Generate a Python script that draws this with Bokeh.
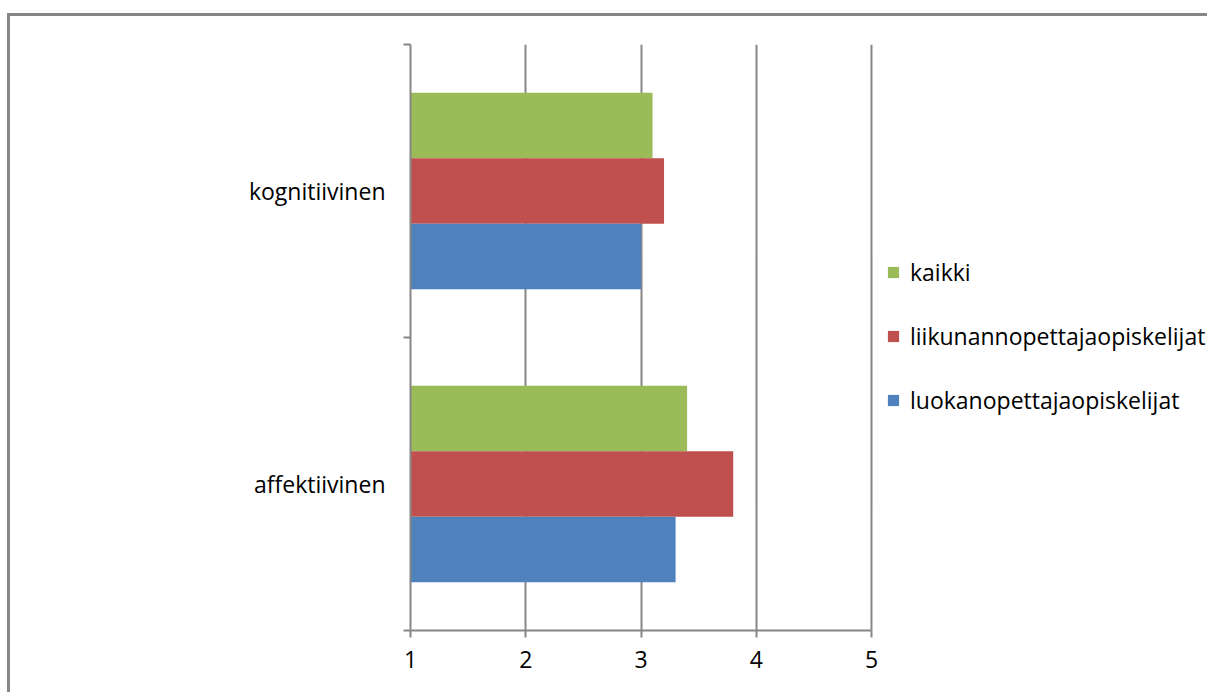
from bokeh.plotting import figure
from bokeh.models import ColumnDataSource, Range1d, FixedTicker, Legend, LegendItem
from bokeh.transform import dodge
from bokeh.embed import file_html
from bokeh.resources import INLINE

categories = ["affektiivinen", "kognitiivinen"]
series = ["kaikki", "liikunannopettajaopiskelijat", "luokanopettajaopiskelijat"]
kaikki = [3.4, 3.1]
liikunnan = [3.8, 3.2]
luokan = [3.3, 3.0]
x_ticks = [1, 2, 3, 4, 5]

colors = {"kaikki": "#9BBB59", "liikunannopettajaopiskelijat": "#C0504D",
          "luokanopettajaopiskelijat": "#4F81BD"}

FONT = "Open Sans"
GRAY = "#868686"

ypos = [i + 0.5 for i in range(len(categories))]
src = ColumnDataSource(dict(y=ypos, kaikki=kaikki, liik=liikunnan, luok=luokan,
                            cat=categories))

px_per_unit = 115.25
frame_w = 800
p = figure(width=1200, height=679, output_backend="svg", toolbar_location=None,
           x_range=Range1d(1, 1 + frame_w / px_per_unit), y_range=Range1d(0, len(categories)),
           min_border_left=400, min_border_right=0, min_border_top=28,
           min_border_bottom=65, outline_line_color=None,
           styles={"margin-left": "7px", "margin-top": "13px",
                   "border-top": "3px solid " + GRAY, "border-left": "3px solid " + GRAY})
p.background_fill_color = "white"
p.border_fill_color = "white"

bh = 0.2235
r_k = p.hbar(y=dodge("y", bh, range=p.y_range), left=1, right="kaikki", height=bh,
             source=src, fill_color=colors["kaikki"], line_color=None)
r_li = p.hbar(y=dodge("y", 0, range=p.y_range), left=1, right="liik", height=bh,
              source=src, fill_color=colors["liikunannopettajaopiskelijat"], line_color=None)
r_lu = p.hbar(y=dodge("y", -bh, range=p.y_range), left=1, right="luok", height=bh,
              source=src, fill_color=colors["luokanopettajaopiskelijat"], line_color=None)

# x axis
p.xaxis.ticker = FixedTicker(ticks=x_ticks)
p.xaxis.bounds = (x_ticks[0], x_ticks[-1])
p.xaxis.axis_line_color = GRAY
p.xaxis.axis_line_width = 2
p.xaxis.major_tick_line_color = GRAY
p.xaxis.major_tick_line_width = 2
p.xaxis.major_tick_in = 0
p.xaxis.major_tick_out = 7
p.xaxis.minor_tick_line_color = None
p.xaxis.major_label_text_font = FONT
p.xaxis.major_label_text_font_size = "23px"
p.xaxis.major_label_text_color = "#000000"
p.xaxis.major_label_standoff = 13

# y axis
p.yaxis.ticker = FixedTicker(ticks=ypos, minor_ticks=list(range(len(categories) + 1)))
p.yaxis.major_label_overrides = {y: c for y, c in zip(ypos, categories)}
p.yaxis.axis_line_color = GRAY
p.yaxis.axis_line_width = 2
p.yaxis.major_tick_line_color = None
p.yaxis.minor_tick_line_color = GRAY
p.yaxis.minor_tick_line_width = 2
p.yaxis.minor_tick_in = 0
p.yaxis.minor_tick_out = 7
p.yaxis.major_label_text_font = FONT
p.yaxis.major_label_text_font_size = "23px"
p.yaxis.major_label_text_color = "#000000"
p.yaxis.major_label_standoff = 18

p.xgrid.ticker = FixedTicker(ticks=x_ticks[1:])
p.xgrid.grid_line_color = GRAY
p.xgrid.grid_line_width = 2
p.ygrid.grid_line_color = None

legend = Legend(items=[LegendItem(label=series[0], renderers=[r_k]),
                       LegendItem(label=series[1], renderers=[r_li]),
                       LegendItem(label=series[2], renderers=[r_lu])],
                location=(476, 214), orientation="vertical")
legend.glyph_width = 14
legend.glyph_height = 14
legend.label_height = 30
legend.label_standoff = 10
legend.spacing = 32
legend.padding = 0
legend.margin = 0
legend.border_line_color = None
legend.background_fill_alpha = 0
legend.label_text_font = FONT
legend.label_text_font_size = "23px"
legend.label_text_color = "#000000"
p.add_layout(legend, "center")

open("out.html", "w").write(file_html(p, INLINE))
